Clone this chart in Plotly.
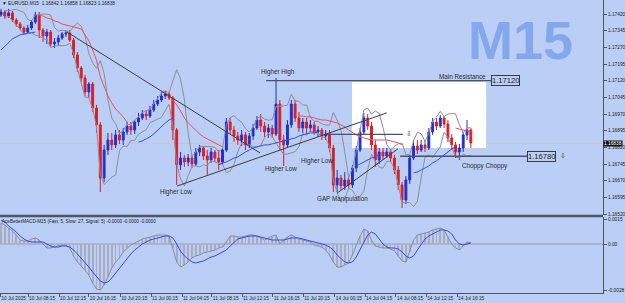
import plotly.graph_objects as go
import pandas as pd

# ---------------- data (30-min bars) ----------------
bars = list(range(124))

opens = [1.17416, 1.17429, 1.17411, 1.17425, 1.17393, 1.17375, 1.17357, 1.17339, 1.17357, 1.17384,
         1.17416, 1.17348, 1.17321, 1.17339, 1.17285, 1.17294, 1.17312, 1.17330, 1.17335, 1.17303,
         1.17236, 1.17177, 1.17132, 1.17069, 1.17105, 1.16997, 1.16921, 1.16682, 1.16808, 1.16853,
         1.16831, 1.16876, 1.16853, 1.16889, 1.16916, 1.16898, 1.16934, 1.16952, 1.16970, 1.16961,
         1.16988, 1.17015, 1.17033, 1.17051, 1.17060, 1.17042, 1.16898, 1.16741, 1.16772, 1.16754,
         1.16772, 1.16745, 1.16799, 1.16817, 1.16781, 1.16763, 1.16799, 1.16772, 1.16754, 1.16808,
         1.16934, 1.16898, 1.16871, 1.16853, 1.16876, 1.16831, 1.16871, 1.16907, 1.16943, 1.16916,
         1.16889, 1.16907, 1.16880, 1.17015, 1.16853, 1.16831, 1.16921, 1.17015, 1.16952, 1.16907,
         1.16934, 1.16907, 1.16921, 1.16889, 1.16898, 1.16871, 1.16880, 1.16817, 1.16651, 1.16682,
         1.16646, 1.16673, 1.16651, 1.16727, 1.16808, 1.16889, 1.16952, 1.16916, 1.16831, 1.16763,
         1.16799, 1.16781, 1.16799, 1.16772, 1.16718, 1.16651, 1.16583, 1.16673, 1.16772, 1.16826,
         1.16808, 1.16831, 1.16817, 1.16889, 1.16934, 1.16916, 1.16952, 1.16925, 1.16862, 1.16831,
         1.16799, 1.16817, 1.16876, 1.16898]

highs = [1.17443, 1.17438, 1.17443, 1.17434, 1.17402, 1.17384, 1.17366, 1.17371, 1.17393, 1.17429,
         1.17429, 1.17357, 1.17353, 1.17348, 1.17312, 1.17326, 1.17339, 1.17348, 1.17348, 1.17312,
         1.17249, 1.17186, 1.17146, 1.17114, 1.17114, 1.17011, 1.16934, 1.16831, 1.16885, 1.16885,
         1.16898, 1.16898, 1.16907, 1.16934, 1.16934, 1.16943, 1.16975, 1.16988, 1.16988, 1.17006,
         1.17033, 1.17051, 1.17069, 1.17074, 1.17069, 1.17051, 1.16907, 1.16799, 1.16786, 1.16790,
         1.16786, 1.16817, 1.16831, 1.16826, 1.16808, 1.16817, 1.16808, 1.16808, 1.16817, 1.16952,
         1.16952, 1.16916, 1.16889, 1.16898, 1.16889, 1.16885, 1.16925, 1.16961, 1.16970, 1.16934,
         1.16925, 1.16921, 1.17132, 1.17033, 1.16876, 1.16943, 1.17033, 1.17033, 1.16979, 1.16952,
         1.16952, 1.16943, 1.16934, 1.16916, 1.16907, 1.16898, 1.16898, 1.16831, 1.16718, 1.16696,
         1.16709, 1.16691, 1.16741, 1.16826, 1.16907, 1.16975, 1.16970, 1.16934, 1.16853, 1.16817,
         1.16817, 1.16817, 1.16813, 1.16786, 1.16736, 1.16664, 1.16691, 1.16786, 1.16853, 1.16853,
         1.16853, 1.16849, 1.16907, 1.16952, 1.16952, 1.16966, 1.16961, 1.16943, 1.16880, 1.16844,
         1.16835, 1.16889, 1.16943, 1.16907]

lows = [1.17407, 1.17398, 1.17402, 1.17384, 1.17362, 1.17348, 1.17326, 1.17330, 1.17348, 1.17375,
        1.17312, 1.17294, 1.17285, 1.17272, 1.17267, 1.17276, 1.17303, 1.17317, 1.17294, 1.17222,
        1.17159, 1.17114, 1.17051, 1.17042, 1.16979, 1.16885, 1.16619, 1.16664, 1.16786, 1.16808,
        1.16817, 1.16835, 1.16831, 1.16876, 1.16876, 1.16880, 1.16916, 1.16943, 1.16943, 1.16952,
        1.16979, 1.17006, 1.17024, 1.17038, 1.17033, 1.16853, 1.16651, 1.16718, 1.16732, 1.16736,
        1.16727, 1.16736, 1.16781, 1.16763, 1.16696, 1.16750, 1.16754, 1.16718, 1.16741, 1.16799,
        1.16880, 1.16844, 1.16831, 1.16826, 1.16808, 1.16817, 1.16853, 1.16898, 1.16889, 1.16867,
        1.16862, 1.16862, 1.16871, 1.16808, 1.16736, 1.16817, 1.16907, 1.16934, 1.16889, 1.16885,
        1.16880, 1.16889, 1.16876, 1.16867, 1.16853, 1.16853, 1.16799, 1.16619, 1.16619, 1.16628,
        1.16628, 1.16633, 1.16637, 1.16709, 1.16799, 1.16876, 1.16898, 1.16808, 1.16732, 1.16745,
        1.16763, 1.16772, 1.16754, 1.16700, 1.16628, 1.16547, 1.16565, 1.16655, 1.16763, 1.16790,
        1.16799, 1.16799, 1.16808, 1.16876, 1.16898, 1.16907, 1.16907, 1.16844, 1.16808, 1.16772,
        1.16763, 1.16799, 1.16853, 1.16817]

closes = [1.17429, 1.17411, 1.17425, 1.17393, 1.17375, 1.17357, 1.17339, 1.17357, 1.17384, 1.17416,
          1.17348, 1.17321, 1.17339, 1.17285, 1.17294, 1.17312, 1.17330, 1.17335, 1.17303, 1.17236,
          1.17177, 1.17132, 1.17069, 1.17105, 1.16997, 1.16921, 1.16682, 1.16808, 1.16853, 1.16831,
          1.16876, 1.16853, 1.16889, 1.16916, 1.16898, 1.16934, 1.16952, 1.16970, 1.16961, 1.16988,
          1.17015, 1.17033, 1.17051, 1.17060, 1.17042, 1.16898, 1.16741, 1.16772, 1.16754, 1.16772,
          1.16745, 1.16799, 1.16817, 1.16781, 1.16763, 1.16799, 1.16772, 1.16754, 1.16808, 1.16934,
          1.16898, 1.16871, 1.16853, 1.16876, 1.16831, 1.16871, 1.16907, 1.16943, 1.16916, 1.16889,
          1.16907, 1.16880, 1.17015, 1.16853, 1.16831, 1.16921, 1.17015, 1.16952, 1.16907, 1.16934,
          1.16907, 1.16921, 1.16889, 1.16898, 1.16871, 1.16880, 1.16817, 1.16651, 1.16682, 1.16646,
          1.16673, 1.16651, 1.16727, 1.16808, 1.16889, 1.16952, 1.16916, 1.16831, 1.16763, 1.16799,
          1.16781, 1.16799, 1.16772, 1.16718, 1.16651, 1.16583, 1.16673, 1.16772, 1.16826, 1.16808,
          1.16831, 1.16817, 1.16889, 1.16934, 1.16916, 1.16952, 1.16925, 1.16862, 1.16831, 1.16799,
          1.16817, 1.16876, 1.16898, 1.16840]

# moving-average segments (start bar, values)
red_ma_a = (10, [1.17416, 1.17411, 1.17402, 1.17398, 1.17389, 1.17384, 1.17375, 1.17371, 1.17366, 1.17362,
                 1.17357, 1.17353, 1.17326, 1.17299, 1.17258, 1.17213, 1.17137, 1.17092, 1.17051, 1.17020,
                 1.16993, 1.16975, 1.16957, 1.16934])
red_ma_b = (42, [1.17069, 1.17069, 1.17051, 1.17033, 1.17011, 1.16984, 1.16952, 1.16930, 1.16912, 1.16894,
                 1.16880, 1.16867, 1.16858, 1.16849, 1.16840, 1.16831, 1.16822])
red_ma_c = (78, [1.16961, 1.16961, 1.16957, 1.16957, 1.16952, 1.16948, 1.16943, 1.16943, 1.16939, 1.16934,
                 1.16930, 1.16921, 1.16912, 1.16898, 1.16885, 1.16876, 1.16867, 1.16862, 1.16858, 1.16853,
                 1.16853, 1.16853, 1.16853, 1.16853, 1.16849, 1.16844, 1.16840, 1.16831])
red_ma_d = (119, [1.16907, 1.16903, 1.16898, 1.16894, 1.16889])

blue_ma_a = (0, [1.17258, 1.17276, 1.17294, 1.17308, 1.17317, 1.17326, 1.17330, 1.17335, 1.17335, 1.17339])
blue_ma_b = (36, [1.16844, 1.16849, 1.16858, 1.16867, 1.16880, 1.16898, 1.16912, 1.16930, 1.16943, 1.16952])
blue_ma_c = (57, [1.16741, 1.16750, 1.16754, 1.16763, 1.16772, 1.16777, 1.16790, 1.16799, 1.16808, 1.16817,
                  1.16822, 1.16826, 1.16831, 1.16831, 1.16835, 1.16840, 1.16844, 1.16849, 1.16853, 1.16858,
                  1.16862, 1.16871, 1.16876, 1.16880, 1.16885, 1.16885, 1.16889])
blue_ma_d = (93, [1.16736, 1.16745, 1.16754, 1.16763, 1.16772, 1.16777, 1.16786])
blue_ma_e = (108, [1.16705, 1.16709, 1.16718, 1.16727, 1.16736, 1.16750, 1.16759, 1.16772, 1.16786, 1.16799,
                   1.16813, 1.16822])

macd_main = [0.00126, 0.00114, 0.00096, 0.00078, 0.00054, 0.00024, 0.00018, 0.00018, 0.00030, 0.00036,
             0.00024, 0.0, -0.00024, -0.00024, -0.00018, -0.00012, -0.00006, -0.00006, -0.00024, -0.00072,
             -0.00108, -0.00132, -0.00156, -0.00186, -0.00234, -0.00270, -0.00276, -0.00246, -0.00198, -0.00144,
             -0.00108, -0.00084, -0.00048, -0.00024, -0.00006, 0.00006, 0.00018, 0.00030, 0.00036, 0.00042,
             0.00048, 0.00054, 0.00054, 0.00054, 0.00048, -0.00024, -0.00108, -0.00138, -0.00126, -0.00108,
             -0.00084, -0.00072, -0.00066, -0.00054, -0.00048, -0.00042, -0.00036, -0.00024, -0.00018, 0.00012,
             0.00048, 0.00048, 0.00042, 0.00042, 0.00048, 0.00054, 0.00054, 0.00048, 0.00036, 0.00024,
             0.00036, 0.00048, 0.00054, 0.0, 0.00024, 0.00042, 0.00054, 0.00042, 0.00030, 0.00024,
             0.00018, 0.00012, -0.00006, -0.00012, -0.00018, -0.00036, -0.00066, -0.00108, -0.00138, -0.00138,
             -0.00126, -0.00114, -0.00066, -0.00006, 0.00048, 0.00090, 0.00078, 0.00024, -0.00012, -0.00018,
             -0.00024, -0.00024, -0.00030, -0.00042, -0.00072, -0.00102, -0.00108, -0.00048, 0.00024, 0.00054,
             0.00060, 0.00066, 0.00072, 0.00084, 0.00090, 0.00096, 0.00084, 0.00042, 0.0, -0.00024,
             -0.00036, -0.00012, 0.00012, 0.00006]

macd_signal = [0.00144, 0.00132, 0.00108, 0.00090, 0.00072, 0.00048, 0.00030, 0.00018, 0.00012, 0.00012,
               0.00012, 0.00012, 0.0, -0.00012, -0.00018, -0.00018, -0.00012, -0.00012, -0.00018, -0.00036,
               -0.00060, -0.00084, -0.00114, -0.00138, -0.00168, -0.00198, -0.00222, -0.00234, -0.00228, -0.00204,
               -0.00174, -0.00144, -0.00114, -0.00084, -0.00060, -0.00036, -0.00018, 0.0, 0.00012, 0.00024,
               0.00030, 0.00036, 0.00042, 0.00048, 0.00048, 0.00036, 0.0, -0.00042, -0.00072, -0.00090,
               -0.00108, -0.00114, -0.00108, -0.00102, -0.00090, -0.00078, -0.00072, -0.00060, -0.00048, -0.00036,
               -0.00012, 0.00012, 0.00030, 0.00036, 0.00042, 0.00048, 0.00048, 0.00048, 0.00042, 0.00036,
               0.00030, 0.00024, 0.00024, 0.00024, 0.00024, 0.00030, 0.00036, 0.00036, 0.00036, 0.00030,
               0.00024, 0.00018, 0.00012, 0.00006, 0.0, -0.00006, -0.00018, -0.00036, -0.00066, -0.00090,
               -0.00108, -0.00114, -0.00108, -0.00078, -0.00036, 0.00012, 0.00054, 0.00072, 0.00060, 0.00030,
               0.0, -0.00018, -0.00024, -0.00024, -0.00030, -0.00048, -0.00072, -0.00084, -0.00072, -0.00036,
               0.0, 0.00030, 0.00048, 0.00060, 0.00072, 0.00084, 0.00084, 0.00078, 0.00060, 0.00024,
               0.0, -0.00006, 0.0, 0.00006]

price_ticks = [1.17420, 1.17345, 1.17270, 1.17195, 1.17120, 1.17045, 1.16970,
               1.16895, 1.16820, 1.16745, 1.16670, 1.16595, 1.16520]
macd_ticks = [0.0015, 0.0, -0.0028]
macd_tick_text = ["0.0015", "0.00", "-0.0028"]
time_tick_pos = [-0.2, 7.07, 15.2, 23.0, 31.2, 39.3, 47.4, 55.2, 63.1, 71.2, 79.1, 87.4, 95.3, 103.4, 111.3, 119.4]
time_tick_text = ["10 Jul 2025", "10 Jul 08:15", "10 Jul 12:15", "10 Jul 16:15", "10 Jul 20:15",
                  "11 Jul 00:15", "11 Jul 04:15", "11 Jul 08:15", "11 Jul 12:15", "11 Jul 16:15",
                  "11 Jul 20:15", "14 Jul 00:15", "14 Jul 04:15", "14 Jul 08:15", "14 Jul 12:15", "14 Jul 16:15"]

last_price = 1.16838
resistance_price = 1.17120
support_price = 1.16780
arrow_level_price = 1.16878

# drawn objects: (x0, y0, x1, y1) in bar index / price
trendlines = [(17.28, 1.17339, 67.8, 1.16795),
              (46.1, 1.16646, 101.0, 1.16975),
              (88.0, 1.16614, 103.9, 1.16813)]
zone_box = (91.9, 1.16817, 127.0, 1.17114)

labels = [("Higher High", 72.5, 1.17159, "center"),
          ("Higher Low", 45.8, 1.16619, "center"),
          ("Higher Low", 73.3, 1.16722, "center"),
          ("Higher Low", 82.7, 1.16759, "center"),
          ("GAP Manipulation", 89.3, 1.16588, "center"),
          ("Choppy Choppy", 126.7, 1.16736, "center"),
          ("Main Resistance", 127.6, 1.17137, "right")]

# ---------------- style ----------------
BG = "#BBCEF5"
BULL = "#2230CC"
BEAR = "#DC1E24"
FONT = "Liberation Sans, Arial, sans-serif"
AX = "#505566"
X_RANGE = [-0.26, 157.6]


def seg_to_full(*segs):
    full = [None] * len(bars)
    for start, vals in segs:
        for k, v in enumerate(vals):
            full[start + k] = v
    return full


red_ma = seg_to_full(red_ma_a, red_ma_b, red_ma_c, red_ma_d)
blue_ma = seg_to_full(blue_ma_a, blue_ma_b, blue_ma_c, blue_ma_d, blue_ma_e)

# Bollinger bands (gray envelope) from the closes
s = pd.Series(closes)
bb_mid = s.rolling(5, min_periods=2).mean()
bb_sd = s.rolling(5, min_periods=2).std(ddof=0)
bb_up = (bb_mid + 1.7 * bb_sd).tolist()
bb_lo = (bb_mid - 1.7 * bb_sd).tolist()

fig = go.Figure()

fig.add_trace(go.Candlestick(
    x=bars, open=opens, high=highs, low=lows, close=closes,
    increasing=dict(line=dict(color=BULL, width=1), fillcolor=BULL),
    decreasing=dict(line=dict(color=BEAR, width=1), fillcolor=BEAR),
    whiskerwidth=0, xaxis="x", yaxis="y", showlegend=False, hoverinfo="skip"))

for band in (bb_up, bb_lo):
    fig.add_trace(go.Scatter(x=bars, y=band, mode="lines", line=dict(color="#8E8E98", width=1),
                             xaxis="x", yaxis="y", showlegend=False, hoverinfo="skip"))
fig.add_trace(go.Scatter(x=bars, y=red_ma, mode="lines", line=dict(color="#F0505A", width=1),
                         connectgaps=False, xaxis="x", yaxis="y", showlegend=False, hoverinfo="skip"))
fig.add_trace(go.Scatter(x=bars, y=blue_ma, mode="lines", line=dict(color="#3050F0", width=1),
                         connectgaps=False, xaxis="x", yaxis="y", showlegend=False, hoverinfo="skip"))

# MACD panel
fig.add_trace(go.Bar(x=bars, y=macd_main, width=0.2, marker=dict(color="#AAADC0", line=dict(width=0)),
                     xaxis="x2", yaxis="y2", showlegend=False, hoverinfo="skip"))
fig.add_trace(go.Scatter(x=bars, y=macd_main, mode="lines", line=dict(color="#8C8C96", width=1),
                         xaxis="x2", yaxis="y2", showlegend=False, hoverinfo="skip"))
fig.add_trace(go.Scatter(x=bars, y=macd_signal, mode="lines", line=dict(color="#3A46E8", width=1),
                         xaxis="x2", yaxis="y2", showlegend=False, hoverinfo="skip"))

shapes = []
shapes.append(dict(type="rect", xref="x", yref="y", x0=zone_box[0], x1=zone_box[2],
                   y0=zone_box[1], y1=zone_box[3], fillcolor="white", line=dict(width=0), layer="below"))
shapes.append(dict(type="line", xref="x domain", yref="y", x0=0, x1=1, y0=last_price, y1=last_price,
                   line=dict(color="#C9C2CC", width=1), layer="below"))
for x0, y0, x1, y1 in trendlines:
    shapes.append(dict(type="line", xref="x", yref="y", x0=x0, y0=y0, x1=x1, y1=y1,
                       line=dict(color="#3C3C44", width=1)))
shapes.append(dict(type="line", xref="x", yref="y", x0=69.4, x1=128.3, y0=resistance_price, y1=resistance_price,
                   line=dict(color="#4A5264", width=1.4)))
shapes.append(dict(type="line", xref="x", yref="y", x0=85.3, x1=105.2, y0=arrow_level_price, y1=arrow_level_price,
                   line=dict(color="#4A5264", width=1.2)))
shapes.append(dict(type="line", xref="x", yref="y", x0=104.5, x1=137.7, y0=support_price, y1=support_price,
                   line=dict(color="#4A5264", width=1.4)))
shapes.append(dict(type="line", xref="x2 domain", yref="y2", x0=0, x1=1, y0=0, y1=0,
                   line=dict(color="#9C9CA4", width=1), layer="below"))
shapes.append(dict(type="line", xref="paper", yref="paper", x0=0, x1=1, y0=77 / 293, y1=77 / 293,
                   line=dict(color="#4E5464", width=2.5)))

annotations = []
for text, x, y, anchor in labels:
    annotations.append(dict(text=text, x=x, y=y, xref="x", yref="y", xanchor=anchor, yanchor="middle",
                            showarrow=False, font=dict(family=FONT, size=6.3, color="#2A2A30")))
annotations.append(dict(text="1.17120", x=128.3, y=resistance_price, xref="x", yref="y", xanchor="left",
                        yanchor="middle", showarrow=False, bordercolor="#3A3A44", borderwidth=1, borderpad=0,
                        font=dict(family=FONT, size=7.6, color="#222")))
annotations.append(dict(text="1.16780", x=137.7, y=support_price, xref="x", yref="y", xanchor="left",
                        yanchor="middle", showarrow=False, bordercolor="#3A3A44", borderwidth=1, borderpad=0,
                        font=dict(family=FONT, size=7.6, color="#222")))
annotations.append(dict(text="⇩", x=145.9, y=support_price, xref="x", yref="y", xanchor="left",
                        yanchor="middle", showarrow=False, font=dict(family="DejaVu Sans", size=7, color="#333")))
annotations.append(dict(text="⇩", x=105.6, y=arrow_level_price, xref="x", yref="y", xanchor="left",
                        yanchor="middle", showarrow=False, font=dict(family="DejaVu Sans", size=7, color="#333")))
annotations.append(dict(text="<b>M15</b>", x=520 / 603, y=(293 - 40) / 293, xref="paper", yref="paper",
                        xanchor="center", yanchor="middle", showarrow=False,
                        font=dict(family=FONT, size=54, color="#84A8EE")))
annotations.append(dict(text="▼ EURUSD,M15  1.16842 1.16858 1.16823 1.16838", x=0, y=(293 - 3.5) / 293,
                        xref="paper", yref="paper", xanchor="left", yanchor="middle", showarrow=False,
                        font=dict(family=FONT, size=4.8, color="#222")))
annotations.append(dict(text="AceBetterMACD-M15 (Fast: 5, Slow: 27, Signal: 5) -0.0000 -0.0000 -0.0000",
                        x=0, y=(293 - 221) / 293, xref="paper", yref="paper", xanchor="left", yanchor="middle",
                        showarrow=False, font=dict(family=FONT, size=4.6, color="#222")))
annotations.append(dict(text="1.16838", x=1.0, y=last_price, xref="paper", yref="y", xanchor="left",
                        yanchor="middle", showarrow=False, bgcolor="#101010", borderpad=0,
                        font=dict(family=FONT, size=4.8, color="white")))

fig.update_layout(
    width=625, height=303, margin=dict(l=0, r=22, t=0, b=10, autoexpand=False),
    paper_bgcolor=BG, plot_bgcolor=BG, showlegend=False, bargap=0,
    shapes=shapes, annotations=annotations,
    xaxis=dict(domain=[0, 1], anchor="y", range=X_RANGE, showticklabels=False, showgrid=False,
               zeroline=False, rangeslider=dict(visible=False), fixedrange=True, automargin=False),
    xaxis2=dict(domain=[0, 1], anchor="y2", range=X_RANGE, matches="x", showgrid=False, zeroline=False,
                tickmode="array", tickvals=time_tick_pos, ticktext=time_tick_text, ticks="outside",
                ticklen=3, tickcolor=AX, showline=True, linecolor=AX, linewidth=1, tickangle=0,
                automargin=False, ticklabelposition="outside right",
                tickfont=dict(family=FONT, size=4.8, color="#222")),
    yaxis=dict(domain=[78 / 293, 1], range=[1.165155, 1.17483], side="right", anchor="x",
               tickmode="array", tickvals=price_ticks, ticktext=[f"{v:.5f}" for v in price_ticks],
               ticks="outside", ticklen=3, tickcolor=AX, showline=True, linecolor=AX, linewidth=1,
               showgrid=False, zeroline=False, automargin=False,
               tickfont=dict(family=FONT, size=4.8, color="#222")),
    yaxis2=dict(domain=[0, 76 / 293], range=[-0.00294, 0.00162], side="right", anchor="x2",
                tickmode="array", tickvals=macd_ticks, ticktext=macd_tick_text,
                ticks="outside", ticklen=3, tickcolor=AX, showline=True, linecolor=AX, linewidth=1,
                showgrid=False, zeroline=False, automargin=False,
                tickfont=dict(family=FONT, size=4.8, color="#222")),
)

fig.write_html("out.html")
